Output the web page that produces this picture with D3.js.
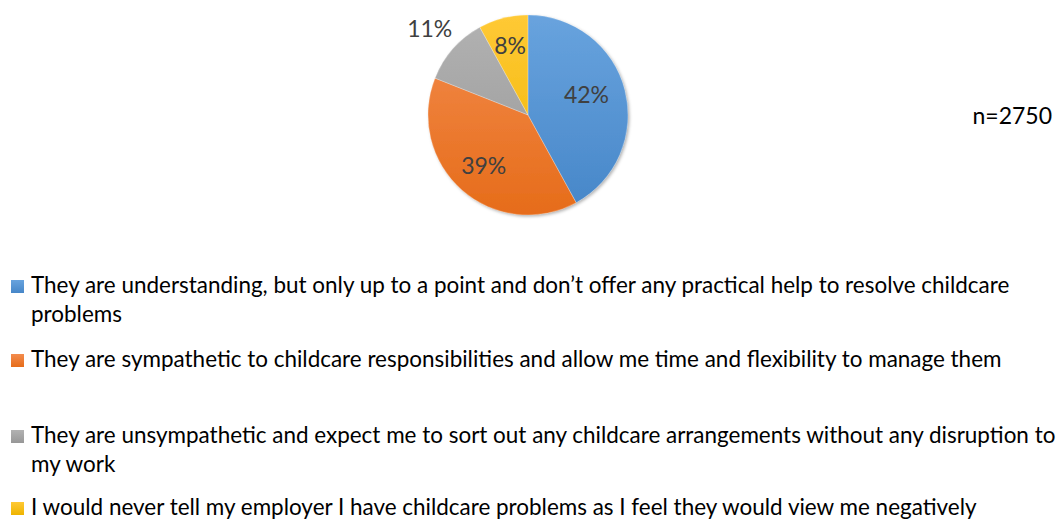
<!DOCTYPE html>
<html>
<head>
<meta charset="utf-8">
<script src="https://cdn.jsdelivr.net/npm/d3@7"></script>
<style>
  body { margin: 0; background: #fff; }
  svg { display: block; }
</style>
</head>
<body>
<div id="chart"></div>
<script>
// data
var categories = [
    "They are understanding, but only up to a point and don\u2019t offer any practical help to resolve childcare problems",
    "They are sympathetic to childcare responsibilities and allow me time and flexibility to manage them",
    "They are unsympathetic and expect me to sort out any childcare arrangements without any disruption to my work",
    "I would never tell my employer I have childcare problems as I feel they would view me negatively"
];
var values = [42, 39, 11, 8];
var sampleLabel = "n=2750";

var colorsTop = ["#68a3de", "#f38c4d", "#b2b2b2", "#ffc935"];
var colorsBottom = ["#4686c8", "#e66c1a", "#979797", "#eeb400"];

var width = 1057, height = 521;
var font = "Lato, 'Open Sans', sans-serif";

var svg = d3.select("#chart").append("svg")
    .attr("width", width)
    .attr("height", height);

var defs = svg.append("defs");

// soft shadow like the office chart
var shadow = defs.append("filter").attr("id", "shadow")
    .attr("x", "-20%").attr("y", "-20%").attr("width", "140%").attr("height", "140%");
shadow.append("feDropShadow")
    .attr("dx", 1.5).attr("dy", 1.5).attr("stdDeviation", 1.5)
    .attr("flood-color", "#000").attr("flood-opacity", 0.3);

var cx = 528, cy = 115, radius = 100;

// one vertical gradient per slice, spanning the whole pie
values.forEach(function (v, i) {
    var g = defs.append("linearGradient")
        .attr("id", "grad" + i)
        .attr("gradientUnits", "userSpaceOnUse")
        .attr("x1", 0).attr("y1", -radius)
        .attr("x2", 0).attr("y2", radius);
    g.append("stop").attr("offset", "0%").attr("stop-color", colorsTop[i]);
    g.append("stop").attr("offset", "100%").attr("stop-color", colorsBottom[i]);
});

var pie = d3.pie().sort(null).value(function (d) { return d; });
var arcs = pie(values);

var arc = d3.arc().innerRadius(0).outerRadius(radius);

var pieG = svg.append("g")
    .attr("transform", `translate(${cx}, ${cy})`);

pieG.append("g")
    .attr("filter", "url(#shadow)")
    .selectAll("path")
    .data(arcs)
    .enter()
    .append("path")
    .attr("d", arc)
    .attr("fill", function (d, i) { return "url(#grad" + i + ")"; });

// thin white separators between slices
pieG.append("g")
    .selectAll("path")
    .data(arcs)
    .enter()
    .append("path")
    .attr("d", arc)
    .attr("fill", "none")
    .attr("stroke", "rgba(255,255,255,0.35)")
    .attr("stroke-width", 0.6);

// data labels: inside, except the 11% one which sits outside
var labelRadius = [0.62, 0.67, 1.31, 0.72];
var labelShift = [-5, 0, 0, 0];
pieG.selectAll("text.pct")
    .data(arcs)
    .enter()
    .append("text")
    .attr("class", "pct")
    .attr("transform", function (d, i) {
        var r = radius * labelRadius[i];
        var a = (d.startAngle + d.endAngle) / 2 + labelShift[i] * Math.PI / 180;
        return `translate(${Math.sin(a) * r}, ${-Math.cos(a) * r})`;
    })
    .attr("text-anchor", "middle")
    .attr("dy", "0.36em")
    .style("font-family", font)
    .style("font-size", "23px")
    .style("fill", "#404040")
    .text(function (d) { return d.data + "%"; });

// n label
svg.append("text")
    .attr("x", 1052)
    .attr("y", 124)
    .attr("text-anchor", "end")
    .style("font-family", font)
    .style("font-size", "23px")
    .style("fill", "#000")
    .text(sampleLabel);

// legend
var legendX = 11, textX = 31, box = 13;
var legendY = [293, 367, 443, 515];
var lineH = 29;
var fontSize = 20;

// size the text so the single-line entry spans like in the picture
var probe = svg.append("text")
    .style("font-family", font)
    .style("font-size", fontSize + "px")
    .text(categories[3]);
var w = probe.node().getComputedTextLength();
fontSize = fontSize * 946 / w;
probe.remove();

function wrap(textSel, str, maxW) {
    var words = str.split(" ");
    var line = [];
    var lines = [];
    var t = textSel.append("tspan");
    words.forEach(function (word) {
        line.push(word);
        t.text(line.join(" "));
        if (t.node().getComputedTextLength() > maxW && line.length > 1) {
            line.pop();
            lines.push(line.join(" "));
            line = [word];
        }
    });
    lines.push(line.join(" "));
    t.remove();
    return lines;
}

var legend = svg.append("g").attr("class", "legend");

categories.forEach(function (c, i) {
    var item = legend.append("g");
    var grad = defs.append("linearGradient")
        .attr("id", "lgrad" + i)
        .attr("x1", 0).attr("y1", 0).attr("x2", 0).attr("y2", 1);
    grad.append("stop").attr("offset", "0%").attr("stop-color", colorsTop[i]);
    grad.append("stop").attr("offset", "100%").attr("stop-color", colorsBottom[i]);

    item.append("rect")
        .attr("x", legendX)
        .attr("y", legendY[i] - box)
        .attr("width", box)
        .attr("height", box)
        .attr("fill", "url(#lgrad" + i + ")");

    var txt = item.append("text")
        .attr("x", textX)
        .attr("y", legendY[i])
        .style("font-family", font)
        .style("font-size", fontSize + "px")
        .style("fill", "#000");

    var lines = wrap(txt, c, width - textX + 6);
    lines.forEach(function (l, j) {
        txt.append("tspan")
            .attr("x", textX)
            .attr("y", legendY[i] + j * lineH)
            .text(l);
    });
});
</script>
</body>
</html>
